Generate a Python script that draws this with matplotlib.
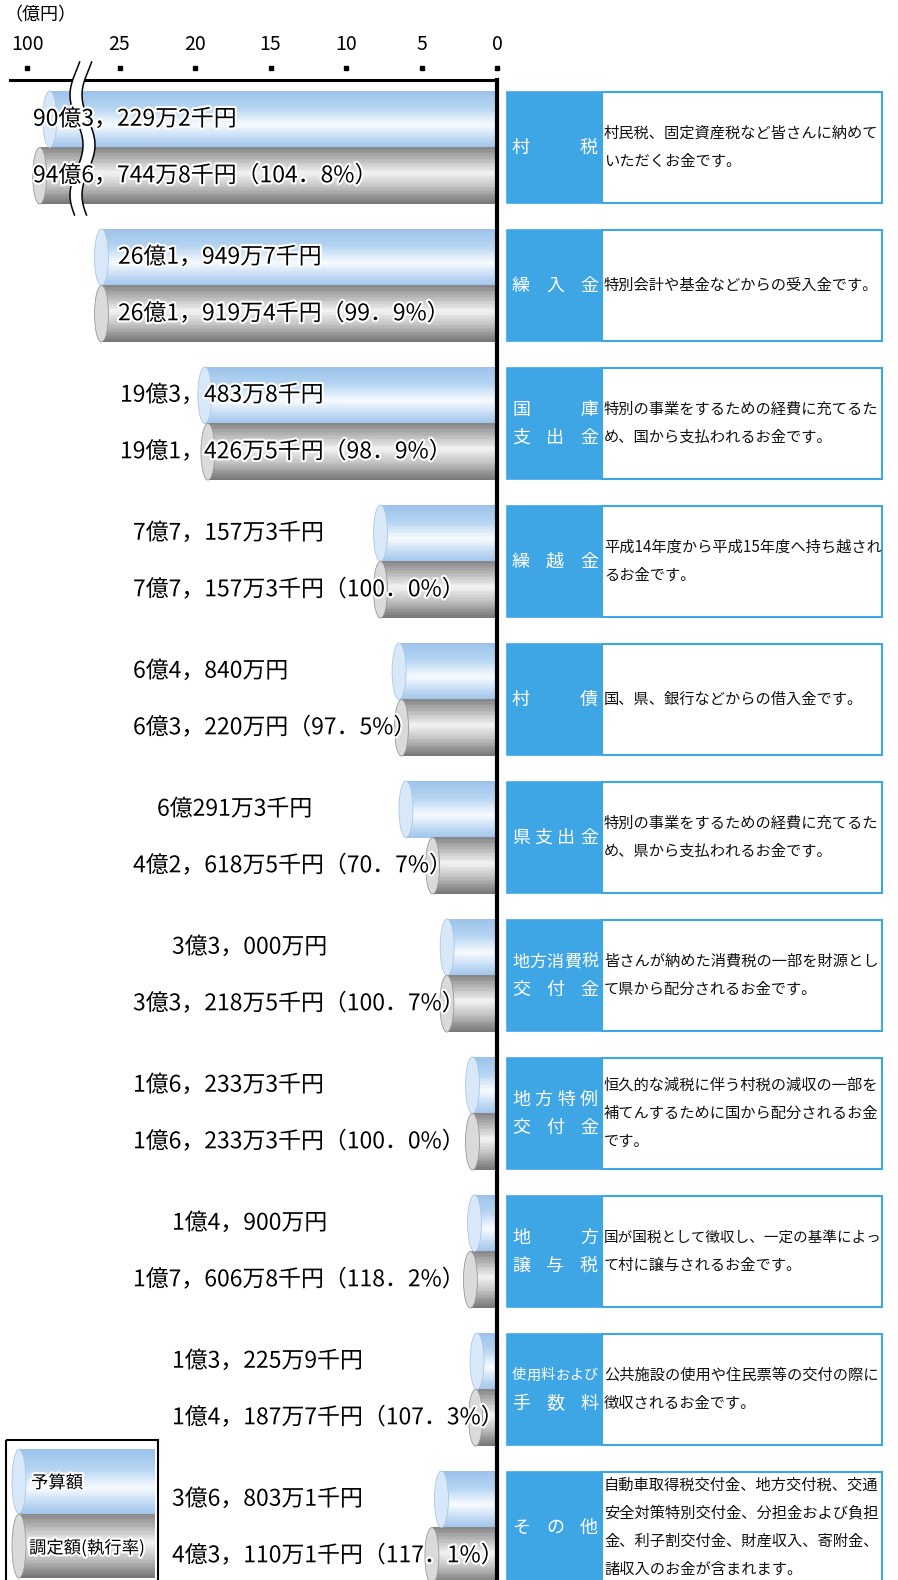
import numpy as np
import matplotlib.pyplot as plt
import matplotlib.patheffects as pe
from matplotlib.patches import Ellipse, Rectangle, Polygon
from matplotlib.transforms import ScaledTranslation, blended_transform_factory
from matplotlib.colors import LinearSegmentedColormap

plt.rcParams['font.family'] = ['Noto Sans CJK JP', 'DejaVu Sans']

# データ（億円）
categories = ["村税", "繰入金", "国庫\n支出金", "繰越金", "村債", "県支出金",
              "地方消費税\n交付金", "地方特例\n交付金", "地方\n譲与税",
              "使用料および\n手数料", "その他"]
budget = [90.32292, 26.19497, 19.34838, 7.71573, 6.484, 6.02913,
          3.3, 1.62333, 1.49, 1.32259, 3.68031]
actual = [94.67448, 26.19194, 19.14265, 7.71573, 6.322, 4.26185,
          3.32185, 1.62333, 1.76068, 1.41877, 4.31101]
rate = [104.8, 99.9, 98.9, 100.0, 97.5, 70.7, 100.7, 100.0, 118.2, 107.3, 117.1]
descriptions = [
    "村民税、固定資産税など皆さんに納めて\nいただくお金です。",
    "特別会計や基金などからの受入金です。",
    "特別の事業をするための経費に充てるた\nめ、国から支払われるお金です。",
    "平成14年度から平成15年度へ持ち越され\nるお金です。",
    "国、県、銀行などからの借入金です。",
    "特別の事業をするための経費に充てるた\nめ、県から支払われるお金です。",
    "皆さんが納めた消費税の一部を財源とし\nて県から配分されるお金です。",
    "恒久的な減税に伴う村税の減収の一部を\n補てんするために国から配分されるお金\nです。",
    "国が国税として徴収し、一定の基準によっ\nて村に譲与されるお金です。",
    "公共施設の使用や住民票等の交付の際に\n徴収されるお金です。",
    "自動車取得税交付金、地方交付税、交通\n安全対策特別交付金、分担金および負担\n金、利子割交付金、財産収入、寄附金、\n諸収入のお金が含まれます。",
]
ticks = [100, 25, 20, 15, 10, 5, 0]

# 金額ラベルの左端（px）
budget_tx = [33, 118, 120, 133, 133, 157, 172, 133, 172, 172, 172]
actual_tx = [33, 118, 120, 133, 133, 133, 133, 133, 133, 172, 172]


def yen(v):
    k = int(round(v * 1e5))
    oku, rest = divmod(k, 100000)
    man, sen = divmod(rest, 10)
    s = f"{oku}億{man:,}万".replace(",", "，")
    return s + (f"{sen}千円" if sen else "円")


# 省略軸（25より先を圧縮）
brk_v = [-100, 0, 27.3, 85, 100, 200]
brk_u = [-100, 0, 27.3, 28.8, 31.1, 31.1 + 100 * 0.153]


def fwd(v):
    return np.interp(v, brk_v, brk_u)


def inv(u):
    return np.interp(u, brk_u, brk_v)


blue = LinearSegmentedColormap.from_list('b', [(0, '#9cc3ea'), (0.3, '#b5d4f1'), (0.6, '#f8fbff'),
                                               (0.8, '#cbe0f5'), (1, '#a2c6ec')])
gray = LinearSegmentedColormap.from_list('g', [(0, '#888888'), (0.45, '#f3f3f3'), (0.7, '#c2c2c2'),
                                               (1, '#777777')])
halo = [pe.withStroke(linewidth=3, foreground='white')]


def cylinder(a, yc, x0, x1, h, cmap, cap_fc, cap_ec, cap_h, z=2):
    n = 40
    ys = yc - h / 2 + (np.arange(n) + 0.5) * h / n
    a.barh(ys, x1 - x0, left=x0, height=h / n * 1.2, color=cmap(np.linspace(0, 1, n)),
           linewidth=0, zorder=z)
    cap = Ellipse((0, 0), 14, cap_h, transform=ScaledTranslation(x1, yc, a.transData),
                  facecolor=cap_fc, edgecolor=cap_ec, linewidth=0.6, zorder=z + 0.1)
    a.add_patch(cap)


W, H = 898, 1580
fig = plt.figure(figsize=(W / 100, H / 100), dpi=100)

lax = fig.add_axes([0, 0, 1, 1], zorder=2)
lax.set_xlim(0, W)
lax.set_ylim(H, 0)
lax.axis('off')

ax = fig.add_axes([10 / W, 0, 487 / W, 1500 / H], zorder=1)
ax.set_xscale('function', functions=(fwd, inv))
ax.set_xlim(inv(487 / 15.1), 0)
ax.set_ylim(1432.5 / 138, -67.5 / 138)
ax.patch.set_visible(False)
for s in ['left', 'bottom']:
    ax.spines[s].set_visible(False)
ax.spines['top'].set_linewidth(2.2)
ax.spines['right'].set_linewidth(3)
ax.set_yticks([])
ax.set_xticks(ticks)
ax.set_xticklabels([str(t) for t in ticks])
ax.tick_params(axis='x', top=True, labeltop=True, bottom=False, labelbottom=False,
               length=0, pad=18, labelsize=14)
ax.plot(ticks, [68] * len(ticks), ls='none', marker='s', ms=2.2, color='k', clip_on=False,
        transform=blended_transform_factory(ax.transData, lax.transData))
lax.text(4, 15, "（億円）", fontsize=13, va='center')

rows = np.arange(len(categories))
bh = 0.41
hpx = bh * 138
tx = blended_transform_factory(lax.transData, ax.transData)

for i in rows:
    cylinder(ax, i - bh / 2, 0, budget[i], bh, blue, '#d8e8f8', '#a8c8ea', hpx)
    cylinder(ax, i + bh / 2, 0, actual[i], bh, gray, '#dadada', '#999999', hpx)
    ax.text(budget_tx[i], i - bh / 2, yen(budget[i]), transform=tx, fontsize=16.5,
            va='center', zorder=5, path_effects=halo)
    pct = f"（{rate[i]:.1f}%）".replace(".", "．")
    ax.text(actual_tx[i], i + bh / 2, yen(actual[i]) + pct, transform=tx, fontsize=16.5,
            va='center', zorder=5, path_effects=halo)

# 省略記号
yy = np.linspace(62, 215, 200)
xl = 76.5 - 6.5 * np.cos(2 * np.pi * (yy - 95) / 100)
xr = xl + 12
ax.add_patch(Polygon(np.column_stack([np.r_[xl, xr[::-1]], np.r_[yy, yy[::-1]]]),
                     closed=True, facecolor='white', edgecolor='none',
                     transform=lax.transData, zorder=4, clip_on=False))
ax.plot(xl, yy, color='k', lw=1.1, transform=lax.transData, zorder=4.5, clip_on=False)
ax.plot(xr, yy, color='k', lw=1.1, transform=lax.transData, zorder=4.5, clip_on=False)

# 右側の説明
to_px = lax.transData.inverted()
box_blue = '#3fa6e5'
for i in rows:
    yc = to_px.transform(ax.transData.transform((1, i)))[1]
    lax.add_patch(Rectangle((507, yc - 55.5), 95, 111, facecolor=box_blue,
                            edgecolor=box_blue, lw=1.2))
    lax.add_patch(Rectangle((602, yc - 55.5), 280, 111, facecolor='white',
                            edgecolor=box_blue, lw=1.5))
    lab = categories[i].split("\n")
    for k, line in enumerate(lab):
        y = yc + (k - (len(lab) - 1) / 2) * 28
        n = len(line)
        s = min(18.0, 85.0 / n)
        xs = np.linspace(512 + s / 2, 598 - s / 2, n)
        for c, x in zip(line, xs):
            lax.text(x, y, c, color='white', fontsize=s / 1.389, ha='center', va='center')
    dl = descriptions[i].split("\n")
    for k, line in enumerate(dl):
        y = yc + (k - (len(dl) - 1) / 2) * 28
        w = sum(0.55 if ord(c) < 128 else 1.0 for c in line)
        fs = min(11.0, 277 / (w * 1.389))
        lax.text(604, y, line, fontsize=fs, va='center', color='#111111')

# 凡例
lax.add_patch(Rectangle((6, 1440), 152, 150, fill=False, edgecolor='k', lw=1.5))
cylinder(lax, 1481.5, 155, 19, 64, blue, '#d8e8f8', '#a8c8ea', 64)
cylinder(lax, 1546, 155, 19, 64, gray, '#dadada', '#999999', 64)
lax.text(31, 1483, "予算額", fontsize=12.5, va='center', zorder=5, path_effects=halo)
lax.text(29, 1548, "調定額(執行率)", fontsize=12.5, va='center', zorder=5, path_effects=halo)

fig.savefig('out.png', dpi=100)
